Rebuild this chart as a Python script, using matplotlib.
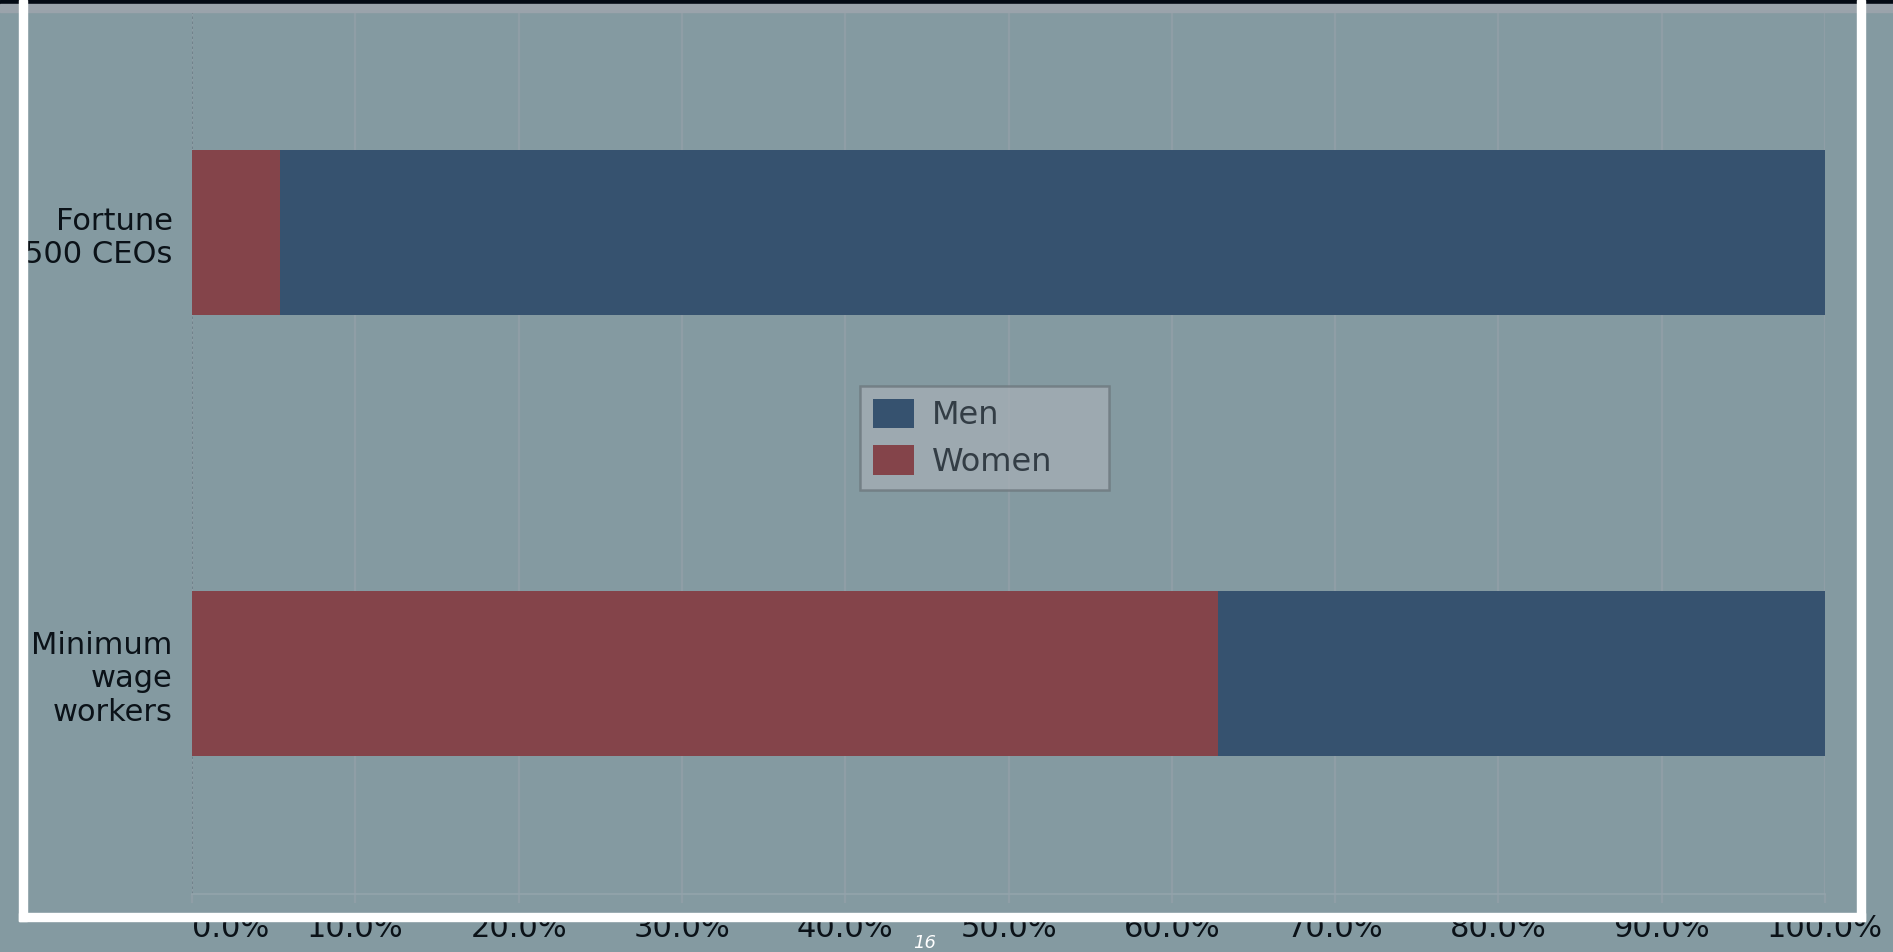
import numpy as np
import matplotlib
matplotlib.use("Agg")
from matplotlib import pyplot as plt
from matplotlib.patches import Rectangle
from matplotlib.ticker import PercentFormatter

# data (percent of each group)
categories = ["Minimum\nwage\nworkers", "Fortune\n500 CEOs"]
women = [62.8, 5.4]
men = [37.2, 94.6]
series_names = ["Men", "Women"]
x_ticks = [0, 10, 20, 30, 40, 50, 60, 70, 80, 90, 100]

# colours
bg = "#849aa1"
men_col = "#36526f"
women_col = "#84444a"
grid_col = "#8f9ea6"
text_col = "#0b1218"

W, H = 1893, 952
fig = plt.figure(figsize=(W / 100, H / 100), dpi=100)
fig.patch.set_facecolor(bg)

# axes placed in pixel terms
left, right, top, bottom = 192, 1825, 12, 894
ax = fig.add_axes([left / W, 1 - bottom / H, (right - left) / W, (bottom - top) / H])
ax.set_facecolor(bg)

# stacked horizontal bars
b_w = ax.barh(categories, women, height=0.372, color=women_col, zorder=3, label="Women")
b_m = ax.barh(categories, men, left=women, height=0.372, color=men_col, zorder=3, label="Men")

ax.set_xlim(0, 100)
ax.set_ylim(-0.5, 1.5)
ax.set_xticks(x_ticks)
ax.xaxis.set_major_formatter(PercentFormatter(decimals=1))

# grid lines
ax.grid(axis="x", color=grid_col, linewidth=1.6, zorder=1)
ax.axvline(0, color="#6c7d86", linewidth=1.2, linestyle=(0, (1.5, 1.5)), zorder=2)
for s in ["top", "right", "left"]:
    ax.spines[s].set_visible(False)
ax.spines["bottom"].set_color("#93a4ab")
ax.spines["bottom"].set_linewidth(1.2)

ax.tick_params(axis="x", length=6.5, width=1.6, color=grid_col, pad=8,
               labelsize=22, labelcolor=text_col)
ax.tick_params(axis="y", length=0, pad=14, labelsize=22, labelcolor=text_col)

fig.canvas.draw()
for lab in ax.get_yticklabels():
    lab.set_linespacing(1.2)
# first x label sits to the right of its tick
ax.get_xticklabels()[0].set_horizontalalignment("left")

# legend, Men first, fixed width box
lx0, ly0, lx1, ly1 = 860, 386, 1109, 493
leg = ax.legend([b_m, b_w], series_names, loc="upper left", mode="expand",
                bbox_to_anchor=(lx0 / W, 1 - ly1 / H, (lx1 - lx0) / W, (ly1 - ly0) / H),
                bbox_transform=fig.transFigure,
                fontsize=23, fancybox=False, framealpha=0.75,
                facecolor="#a6afb6", edgecolor="#6b757b",
                handlelength=1.3, handleheight=1.05, handletextpad=0.55,
                labelspacing=0.42, borderpad=0.4, borderaxespad=0)
leg.get_frame().set_linewidth(1.8)
for t in leg.get_texts():
    t.set_color("#333d45")

# slide decoration: dark band, gray strip, white frame
fig.patches.append(Rectangle((0, 1 - 4 / H), 1, 4 / H, transform=fig.transFigure,
                             color="#040a14", zorder=20))
fig.patches.append(Rectangle((0, 1 - 12 / H), 1, 8 / H, transform=fig.transFigure,
                             color="#9aa3ab", zorder=20))
frame = [(19, 0, 8, 921), (1857, 0, 8, 921), (19, 913, 1846, 8)]
for x0, y0, w, h in frame:
    fig.patches.append(Rectangle((x0 / W, 1 - (y0 + h) / H), w / W, h / H,
                                 transform=fig.transFigure, color="white", zorder=21))

# page number
fig.text(925 / W, 1 - 943 / H, "16", color="white", fontsize=13, style="italic",
         ha="center", va="center")

fig.savefig("out.png", dpi=100, facecolor=fig.get_facecolor())
